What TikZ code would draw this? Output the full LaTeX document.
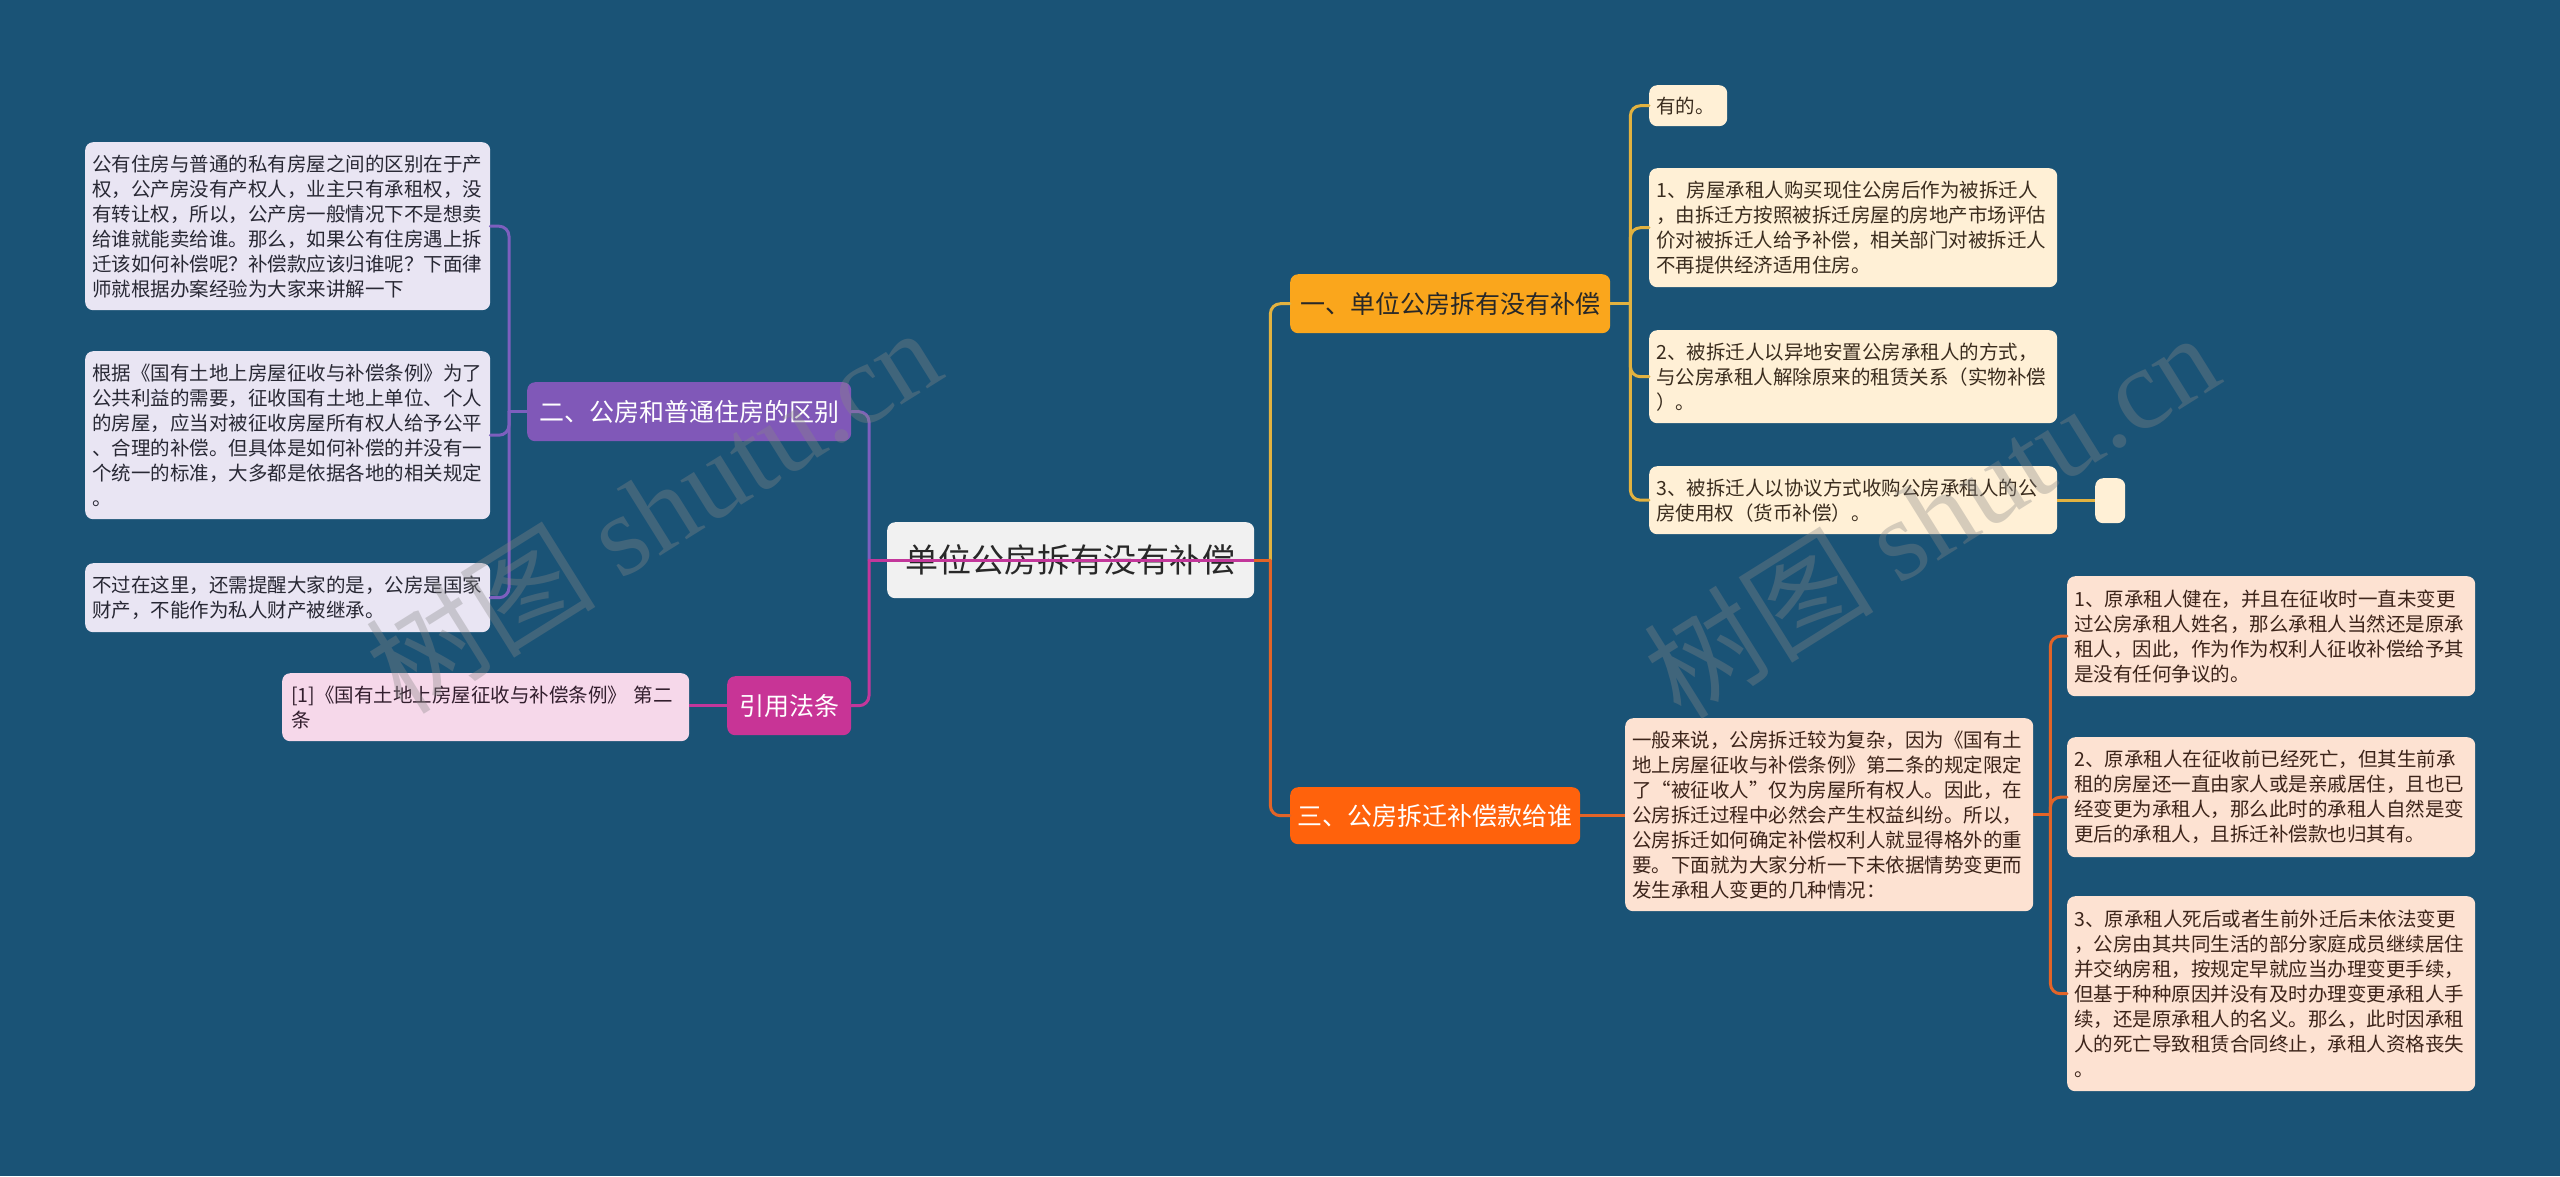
\documentclass[tikz,border=0pt]{standalone}
\usepackage{fontspec}
\setmainfont{Noto Sans CJK SC}
\newfontfamily\wmlatin{Liberation Serif}
\usetikzlibrary{calc}
\definecolor{bg}{RGB}{26,83,118}
\definecolor{rootfill}{RGB}{241,241,241}
\definecolor{roottxt}{RGB}{40,40,40}
\definecolor{yelfill}{RGB}{250,166,28}
\definecolor{yelline}{RGB}{226,178,64}
\definecolor{creamfill}{RGB}{255,240,214}
\definecolor{creamtxt}{RGB}{58,44,30}
\definecolor{orafill}{RGB}{255,98,12}
\definecolor{oraline}{RGB}{226,100,40}
\definecolor{peachfill}{RGB}{253,226,210}
\definecolor{peachtxt}{RGB}{60,36,26}
\definecolor{purfill}{RGB}{128,88,184}
\definecolor{purline}{RGB}{125,95,190}
\definecolor{lavfill}{RGB}{233,229,243}
\definecolor{lavtxt}{RGB}{40,40,52}
\definecolor{magfill}{RGB}{200,52,150}
\definecolor{magline}{RGB}{195,55,155}
\definecolor{pinkfill}{RGB}{246,216,234}
\definecolor{pinktxt}{RGB}{50,30,45}
\definecolor{wmgray}{RGB}{135,135,135}
\begin{document}
\begin{tikzpicture}[x=1pt,y=-1pt,
  leaf/.style={anchor=north west, rounded corners=8pt, inner xsep=7pt, inner ysep=0pt, align=left, font=\fontsize{19.5pt}{25pt}\selectfont},
  branch/.style={anchor=north west, rounded corners=8pt, inner sep=0pt, align=center, font=\fontsize{25pt}{30pt}\selectfont},
  conn/.style={line width=3pt, line cap=round, rounded corners=10pt},
  wm/.style={rotate=32, text=wmgray, text opacity=0.35, inner sep=0pt, font=\fontsize{115pt}{120pt}\selectfont}
]
\useasboundingbox (0,0) rectangle (2560,1176);
\fill[bg] (0,0) rectangle (2560,1176);

% ---------- nodes ----------
\node[anchor=north west, rounded corners=8pt, inner sep=0pt, fill=rootfill, text=roottxt,
      minimum width=367pt, minimum height=76pt, font=\fontsize{33pt}{40pt}\selectfont] (root) at (887,522) {单位公房拆有没有补偿};

\node[branch, fill=yelfill, text=roottxt, minimum width=320pt, minimum height=59pt] (bA) at (1290,274) {一、单位公房拆有没有补偿};
\node[branch, fill=purfill, text=white, minimum width=324pt, minimum height=59pt] (bB) at (527,382) {二、公房和普通住房的区别};
\node[branch, fill=orafill, text=white, minimum width=290pt, minimum height=57pt] (bC) at (1290,787) {三、公房拆迁补偿款给谁};
\node[branch, fill=magfill, text=white, minimum width=124pt, minimum height=59pt] (bD) at (727,676) {引用法条};

% left leaves
\node[leaf, fill=lavfill, text=lavtxt, minimum width=405pt, minimum height=168pt, text width=391pt] (lA) at (85,142)
 {公有住房与普通的私有房屋之间的区别在于产\\权，公产房没有产权人，业主只有承租权，没\\有转让权，所以，公产房一般情况下不是想卖\\给谁就能卖给谁。那么，如果公有住房遇上拆\\迁该如何补偿呢？补偿款应该归谁呢？下面律\\师就根据办案经验为大家来讲解一下};
\node[leaf, fill=lavfill, text=lavtxt, minimum width=405pt, minimum height=168pt, text width=391pt] (lB) at (85,351)
 {根据《国有土地上房屋征收与补偿条例》为了\\公共利益的需要，征收国有土地上单位、个人\\的房屋，应当对被征收房屋所有权人给予公平\\、合理的补偿。但具体是如何补偿的并没有一\\个统一的标准，大多都是依据各地的相关规定\\。};
\node[leaf, fill=lavfill, text=lavtxt, minimum width=405pt, minimum height=69pt, text width=391pt] (lC) at (85,563)
 {不过在这里，还需提醒大家的是，公房是国家\\财产，不能作为私人财产被继承。};
\node[leaf, fill=pinkfill, text=pinktxt, minimum width=407pt, minimum height=68pt, text width=389pt, inner xsep=9pt] (lRef) at (282,673)
 {[1]《国有土地上房屋征收与补偿条例》 第二\\条};

% right top leaves
\node[leaf, fill=creamfill, text=creamtxt, minimum width=78pt, minimum height=41pt, text width=64pt] (rA) at (1649,85) {有的。};
\node[leaf, fill=creamfill, text=creamtxt, minimum width=408pt, minimum height=119pt, text width=394pt] (rB) at (1649,168)
 {1、房屋承租人购买现住公房后作为被拆迁人\\，由拆迁方按照被拆迁房屋的房地产市场评估\\价对被拆迁人给予补偿，相关部门对被拆迁人\\不再提供经济适用住房。};
\node[leaf, fill=creamfill, text=creamtxt, minimum width=408pt, minimum height=93pt, text width=394pt] (rC) at (1649,330)
 {2、被拆迁人以异地安置公房承租人的方式，\\与公房承租人解除原来的租赁关系（实物补偿\\）。};
\node[leaf, fill=creamfill, text=creamtxt, minimum width=408pt, minimum height=68pt, text width=394pt] (rD) at (1649,466)
 {3、被拆迁人以协议方式收购公房承租人的公\\房使用权（货币补偿）。};
\node[anchor=north west, rounded corners=8pt, inner sep=0pt, fill=creamfill, minimum width=30pt, minimum height=45pt] (rE) at (2095,478) {};

% right bottom leaves
\node[leaf, fill=peachfill, text=peachtxt, minimum width=408pt, minimum height=193pt, text width=394pt] (mA) at (1625,718)
 {一般来说，公房拆迁较为复杂，因为《国有土\\地上房屋征收与补偿条例》第二条的规定限定\\了“被征收人”仅为房屋所有权人。因此，在\\公房拆迁过程中必然会产生权益纠纷。所以，\\公房拆迁如何确定补偿权利人就显得格外的重\\要。下面就为大家分析一下未依据情势变更而\\发生承租人变更的几种情况：};
\node[leaf, fill=peachfill, text=peachtxt, minimum width=408pt, minimum height=120pt, text width=394pt] (sA) at (2067,576)
 {1、原承租人健在，并且在征收时一直未变更\\过公房承租人姓名，那么承租人当然还是原承\\租人，因此，作为作为权利人征收补偿给予其\\是没有任何争议的。};
\node[leaf, fill=peachfill, text=peachtxt, minimum width=408pt, minimum height=120pt, text width=394pt] (sB) at (2067,737)
 {2、原承租人在征收前已经死亡，但其生前承\\租的房屋还一直由家人或是亲戚居住，且也已\\经变更为承租人，那么此时的承租人自然是变\\更后的承租人，且拆迁补偿款也归其有。};
\node[leaf, fill=peachfill, text=peachtxt, minimum width=408pt, minimum height=195pt, text width=394pt] (sC) at (2067,896)
 {3、原承租人死后或者生前外迁后未依法变更\\，公房由其共同生活的部分家庭成员继续居住\\并交纳房租，按规定早就应当办理变更手续，\\但基于种种原因并没有及时办理变更承租人手\\续，还是原承租人的名义。那么，此时因承租\\人的死亡导致租赁合同终止，承租人资格丧失\\。};

% ---------- connectors ----------
\path (root.east) ++(16,0) coordinate (tR);
\path (root.west) ++(-18,0) coordinate (tL);
\path (bA.east) ++(20,0) coordinate (tA);
\path (bB.west) ++(-18,0) coordinate (tB);
\path (mA.east) ++(17,0) coordinate (tM);

% root right
\draw[conn, draw=yelline] (tR) |- (bA.west);
\draw[conn, draw=oraline] (tR) |- (bC.west);
\draw[line width=3pt, draw=oraline] (root.east) -- (tR);
% root left
\draw[conn, draw=purline] (tL) |- (bB.east);
\draw[conn, draw=magline] (tL) |- (bD.east);
\draw[line width=3pt, draw=magline] (tL) -- (root.east);

% branch A
\draw[line width=3pt, draw=yelline] (bA.east) -- (tA);
\draw[conn, draw=yelline] (tA) |- (rA.west);
\draw[conn, draw=yelline] (tA) |- (rB.west);
\draw[conn, draw=yelline] (tA) |- (rC.west);
\draw[conn, draw=yelline] (tA) |- (rD.west);
\draw[line width=3pt, draw=yelline] (rD.east) -- (rD.east -| rE.west);

% branch B
\draw[line width=3pt, draw=purline] (bB.west) -- (tB);
\draw[conn, draw=purline] (tB) |- (lA.east);
\draw[conn, draw=purline] (tB) |- (lB.east);
\draw[conn, draw=purline] (tB) |- (lC.east);

% branch C
\draw[line width=3pt, draw=oraline] (bC.east) -- (bC.east -| mA.west);
\draw[line width=3pt, draw=oraline] (mA.east) -- (tM);
\draw[conn, draw=oraline] (tM) |- (sA.west);
\draw[conn, draw=oraline] (tM) |- (sB.west);
\draw[conn, draw=oraline] (tM) |- (sC.west);

% branch D
\draw[line width=3pt, draw=magline] (bD.west) -- (bD.west -| lRef.east);

% ---------- watermark ----------
\node[wm] (wmA) at (653,509) {树图 {\wmlatin shutu.cn}};
\node[wm] (wmB) at (1931,514) {树图 {\wmlatin shutu.cn}};
\end{tikzpicture}
\end{document}
